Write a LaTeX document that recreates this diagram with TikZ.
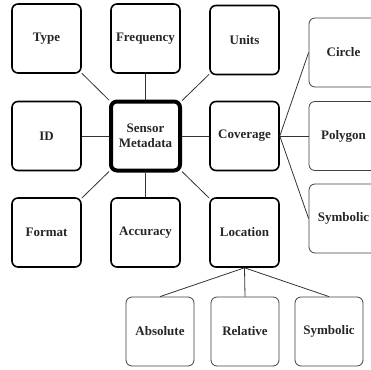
\documentclass[tikz,border=0pt]{standalone}
\usepackage{fontspec}
\setmainfont{Liberation Serif}
\begin{document}
\begin{tikzpicture}[x=1pt,y=-1pt,
  box/.style={draw=black, line width=1.6pt, rounded corners=6pt, minimum width=69pt, minimum height=69pt,
    inner sep=0pt, align=center, font=\fontsize{13}{15.5}\selectfont\bfseries, text=black!85},
  leaf/.style={box, line width=0.8pt, draw=black!75, minimum width=68pt},
  hub/.style={box, line width=4pt, minimum width=69pt, minimum height=69pt},
  link/.style={draw=black!80, line width=0.8pt}]
\useasboundingbox (0,0) rectangle (371,369);
\begin{scope}
\clip (0,0) rectangle (371,369);
% central node and its attributes
\node[hub] (sm) at (145.5,136) {Sensor\\Metadata};
\node[box] (type) at (46.5,38.5) {Type};
\node[box] (freq) at (145.5,38.5) {Frequency};
\node[box] (units) at (244.5,40) {Units};
\node[box] (id) at (46.5,136) {ID};
\node[box] (cov) at (244.5,136) {Coverage};
\node[box] (fmt) at (46.5,232.5) {Format};
\node[box] (acc) at (145.5,232.5) {Accuracy};
\node[box] (loc) at (244.5,232.5) {Location};
% coverage kinds
\node[leaf, minimum width=69pt] (circ) at (343.5,52.5) {Circle};
\node[leaf, minimum width=69pt] (poly) at (343.5,136) {Polygon};
\node[leaf, minimum width=69pt] (csym) at (343.5,218.5) {Symbolic};
% location kinds
\node[leaf] (abs) at (160,331.5) {Absolute};
\node[leaf] (rel) at (245,331.5) {Relative};
\node[leaf] (lsym) at (329,331.5) {Symbolic};
% connectors
\draw[link] (type) -- (sm);
\draw[link] (freq) -- (sm);
\draw[link] (units) -- (sm);
\draw[link] (id) -- (sm);
\draw[link] (cov) -- (sm);
\draw[link] (fmt) -- (sm);
\draw[link] (acc) -- (sm);
\draw[link] (loc) -- (sm);
\draw[link] (cov.east) -- (circ.west);
\draw[link] (cov.east) -- (poly.west);
\draw[link] (cov.east) -- (csym.west);
\draw[link] (loc.south) -- (abs.north);
\draw[link] (loc.south) -- (rel.north);
\draw[link] (loc.south) -- (lsym.north);
\end{scope}
\end{tikzpicture}
\end{document}
